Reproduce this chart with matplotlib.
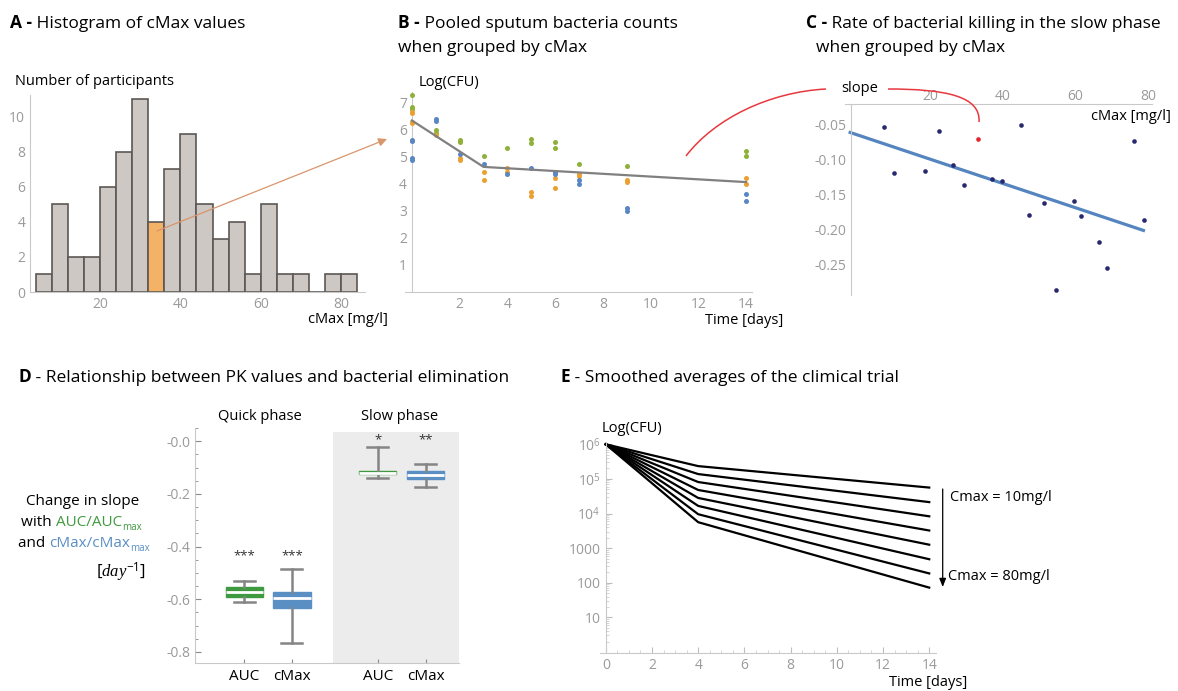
import matplotlib
matplotlib.use("Agg")
import matplotlib.pyplot as plt
import numpy as np
from matplotlib.patches import FancyArrowPatch, PathPatch
from matplotlib.path import Path
from matplotlib.ticker import MultipleLocator, LogLocator, NullFormatter

plt.rcParams['font.family'] = ['Open Sans', 'DejaVu Sans']
plt.rcParams['mathtext.fontset'] = 'custom'
plt.rcParams['mathtext.rm'] = 'Open Sans'
plt.rcParams['mathtext.it'] = 'Liberation Serif:italic'
plt.rcParams['mathtext.bf'] = 'Open Sans:bold'

W, H = 1178, 691

# --- A: histogram of cMax
hist_left = [4, 8, 12, 16, 20, 24, 28, 32, 36, 40, 44, 48, 52, 56, 60, 64, 68, 72, 76, 80]
hist_counts = [1, 5, 2, 2, 6, 8, 11, 4, 7, 9, 5, 3, 4, 1, 5, 1, 1, 0, 1, 1]
hist_highlight = 32

# --- B: pooled sputum counts (log CFU) per group
green_days = [0, 0, 0, 1, 1, 2, 2, 3, 4, 5, 5, 6, 6, 7, 9, 14, 14]
green_vals = [7.27, 6.81, 6.74, 5.98, 5.85, 5.61, 5.54, 5.02, 5.32, 5.62, 5.48, 5.54, 5.32, 4.72, 4.64, 5.18, 5.02]
orange_days = [0, 0, 0, 0, 1, 2, 2, 3, 3, 4, 4, 5, 5, 6, 6, 7, 7, 9, 9, 14, 14]
orange_vals = [6.65, 6.59, 6.25, 6.21, 5.80, 4.94, 4.85, 4.41, 4.12, 4.57, 4.41, 3.68, 3.52, 4.20, 3.82, 4.33, 4.26, 4.13, 4.06, 4.20, 3.97]
blue_days = [0, 0, 0, 0, 1, 1, 2, 3, 4, 5, 6, 6, 7, 7, 9, 9, 14, 14]
blue_vals = [5.61, 5.55, 4.94, 4.87, 6.36, 6.30, 5.10, 4.72, 4.35, 4.57, 4.41, 4.33, 4.13, 3.97, 3.09, 2.99, 3.60, 3.37]
fit_days = [0, 3, 14]
fit_vals = [6.32, 4.61, 4.05]

# --- C: slow phase slope vs cMax
slope_cmax = [7.2, 10.1, 18.5, 22.5, 26.4, 29.3, 37.2, 39.9, 45.0, 47.3, 51.3, 54.7, 59.8, 61.5, 66.6, 68.8, 76.1, 79.0]
slope_vals = [-0.0545, -0.119, -0.117, -0.060, -0.108, -0.137, -0.128, -0.131, -0.0517, -0.179, -0.162, -0.286,
              -0.159, -0.181, -0.218, -0.255, -0.074, -0.187]
red_cmax = 33.2
red_slope = -0.0716

# --- D: box stats (quick phase, slow phase)
d_labels = ['AUC', 'cMax', 'AUC', 'cMax']
d_pos = [1, 2, 3.8, 4.8]
d_whislo = [-0.611, -0.767, -0.141, -0.175]
d_q1 = [-0.592, -0.633, -0.126, -0.144]
d_med = [-0.574, -0.596, -0.119, -0.128]
d_q3 = [-0.555, -0.574, -0.113, -0.115]
d_whishi = [-0.531, -0.484, -0.023, -0.085]
d_stars = ['***', '***', '*', '**']
d_star_y = [-0.435, -0.435, 0.007, 0.007]

# --- E: smoothed averages, log10 CFU at day 0, 4, 14
e_days = [0, 4, 14]
e_start = 6.0
e_day4 = [5.37, 5.14, 4.91, 4.68, 4.45, 4.22, 3.98, 3.75]
e_day14 = [4.75, 4.33, 3.92, 3.51, 3.10, 2.68, 2.27, 1.86]

AXC = '#c9c9c9'
TKC = '#9a9a9a'
TKS = 10


def box(l, t, r, b):
    return [l / W, 1 - b / H, (r - l) / W, (b - t) / H]


fig = plt.figure(figsize=(W / 100, H / 100), dpi=100)

ov = fig.add_axes([0, 0, 1, 1])
ov.set_xlim(0, W)
ov.set_ylim(H, 0)
ov.axis('off')
ov.set_zorder(10)
ov.patch.set_alpha(0)
rend = fig.canvas.get_renderer()


def rich(x, y, parts, size, va='baseline'):
    for s, kw in parts:
        kw = dict(kw)
        t = ov.text(x, y + kw.pop('dy', 0), s, fontsize=kw.pop('size', size), va=va, **kw)
        x += t.get_window_extent(rend).width


def plain_axes(ax):
    for s in ['top', 'right']:
        ax.spines[s].set_visible(False)
    for s in ['left', 'bottom']:
        ax.spines[s].set_color(AXC)
    ax.tick_params(length=0, labelcolor=TKC, labelsize=TKS)


# titles
TS = 12.5
rich(10, 28, [('A -', dict(weight='bold')), (' Histogram of cMax values', {})], TS)
rich(398, 28, [('B -', dict(weight='bold')), (' Pooled sputum bacteria counts', {})], TS)
ov.text(398, 52, 'when grouped by cMax', fontsize=TS, va='baseline')
rich(806, 28, [('C -', dict(weight='bold')), (' Rate of bacterial killing in the slow phase', {})], TS)
ov.text(816, 52, 'when grouped by cMax', fontsize=TS, va='baseline')
rich(18, 382, [('D', dict(weight='bold')), (' - Relationship between PK values and bacterial elimination', {})], TS)
rich(560, 382, [('E', dict(weight='bold')), (' - Smoothed averages of the climical trial', {})], TS)

# ---------------- A
axA = fig.add_axes(box(30, 95, 365, 292))
colorsA = ['#f3b265' if b == hist_highlight else '#cdc8c3' for b in hist_left]
axA.bar(hist_left, hist_counts, width=4, align='edge', color=colorsA, edgecolor='#5b5754', linewidth=1.2)
axA.set_xlim(2.6, 85.9)
axA.set_ylim(0, 11.25)
axA.set_xticks([20, 40, 60, 80])
axA.set_yticks([0, 2, 4, 6, 8, 10])
plain_axes(axA)
ov.text(15, 81, 'Number of participants', fontsize=10.5, va='center')
ov.text(388, 319, 'cMax [mg/l]', fontsize=10.5, va='center', ha='right')

# ---------------- B
axB = fig.add_axes(box(405, 92, 752, 292))
for d, v, c in [(green_days, green_vals, '#8fb13a'), (orange_days, orange_vals, '#eba032'),
                (blue_days, blue_vals, '#5b86c4')]:
    axB.scatter(d, v, s=13, color=c, linewidths=0, zorder=3)
axB.plot(fit_days, fit_vals, color='#808080', lw=1.6, zorder=4)
axB.set_xlim(-0.29, 14.25)
axB.set_ylim(0, 7.37)
axB.spines['left'].set_position(('data', 0))
axB.set_xticks([2, 4, 6, 8, 10, 12, 14])
axB.set_yticks([1, 2, 3, 4, 5, 6, 7])
plain_axes(axB)
ov.text(419, 82, 'Log(CFU)', fontsize=10.5, va='center')
ov.text(783, 320, 'Time [days]', fontsize=10.5, va='center', ha='right')

# ---------------- C
axC = fig.add_axes(box(845, 104, 1152, 295))
axC.scatter(slope_cmax, slope_vals, s=11, color='#27286e', linewidths=0, zorder=3)
axC.scatter([red_cmax], [red_slope], s=11, color='#e8222a', linewidths=0, zorder=3)
k, b0 = np.polyfit(slope_cmax + [red_cmax], slope_vals + [red_slope], 1)
xs = np.array([-2.0, 78.8])
axC.plot(xs, k * xs + b0, color='#5585c0', lw=2.3, zorder=2)
axC.set_xlim(-3.42, 81.16)
axC.set_ylim(-0.293, -0.0213)
axC.spines['left'].set_position(('data', -1.85))
axC.spines['bottom'].set_visible(False)
axC.spines['right'].set_visible(False)
axC.spines['top'].set_color(AXC)
axC.spines['left'].set_color(AXC)
axC.xaxis.set_ticks_position('top')
axC.set_xticks([20, 40, 60, 80])
axC.set_yticks([-0.25, -0.20, -0.15, -0.10, -0.05])
axC.set_yticklabels(['-0.25', '-0.20', '-0.15', '-0.10', '-0.05'])
axC.tick_params(length=0, labelcolor=TKC, labelsize=TKS, pad=3)
axC.tick_params(axis='x', pad=0)
ov.text(1171, 116, 'cMax [mg/l]', fontsize=10.5, va='center', ha='right')
ov.text(860, 88, 'slope', fontsize=10.5, va='center', ha='center')

# red arcs linking B and C
arc1 = Path([(686, 156), (715, 118), (770, 92), (826, 89)], [Path.MOVETO, Path.CURVE4, Path.CURVE4, Path.CURVE4])
arc2 = Path([(888, 89), (945, 89), (981, 96), (979, 122)], [Path.MOVETO, Path.CURVE4, Path.CURVE4, Path.CURVE4])
for p in (arc1, arc2):
    ov.add_patch(PathPatch(p, facecolor='none', edgecolor='#e8383e', lw=1.1))

# orange arrow from histogram bar into B
ov.add_patch(FancyArrowPatch((157, 231), (387, 139), arrowstyle='-|>,head_length=5,head_width=2.5',
                             color='#d9956b', lw=0.9, shrinkA=0, shrinkB=0))

# ---------------- D
axD = fig.add_axes(box(195, 428, 459, 663))
axD.fill_between([2.87, 5.49], -0.842, 0.035, color='#ececec', lw=0, zorder=0)
d_colors = ['#3f9a3f', '#5a8fc4', '#3f9a3f', '#5a8fc4']
for i in range(4):
    st = dict(med=d_med[i], q1=d_q1[i], q3=d_q3[i], whislo=d_whislo[i], whishi=d_whishi[i], fliers=[])
    axD.bxp([st], positions=[d_pos[i]], widths=0.78, capwidths=0.44, patch_artist=True, showfliers=False,
            boxprops=dict(facecolor=d_colors[i], edgecolor=d_colors[i], lw=1),
            medianprops=dict(color='white', lw=2),
            whiskerprops=dict(color='#858585', lw=1.8),
            capprops=dict(color='#858585', lw=1.8), manage_ticks=False)
    axD.text(d_pos[i], d_star_y[i], d_stars[i], ha='center', va='center', fontsize=9.5, color='#333333')
axD.set_xlim(-0.03, 5.5)
axD.set_ylim(-0.842, 0.05)
for s in ['top', 'right']:
    axD.spines[s].set_visible(False)
for s in ['left', 'bottom']:
    axD.spines[s].set_color(AXC)
axD.set_yticks([-0.8, -0.6, -0.4, -0.2, 0.0])
axD.set_yticklabels(['-0.8', '-0.6', '-0.4', '-0.2', '-0.0'])
axD.yaxis.set_minor_locator(MultipleLocator(0.05))
axD.tick_params(axis='y', which='major', direction='in', length=4, color='#8a8a8a', labelcolor=TKC, labelsize=TKS)
axD.tick_params(axis='y', which='minor', direction='in', length=2.5, color='#8a8a8a')
axD.set_xticks(d_pos)
axD.set_xticklabels(d_labels)
axD.tick_params(axis='x', direction='in', length=3, color='#8a8a8a', labelsize=11, pad=4)
ov.text(260, 416, 'Quick phase', fontsize=10.5, ha='center', va='center')
ov.text(400, 416, 'Slow phase', fontsize=10.5, ha='center', va='center')

LS = 11
rich(26, 505, [('Change in slope', {})], LS)
rich(21, 526, [('with ', {}), ('AUC/AUC', dict(color='#3f9a3f')), ('max', dict(color='#3f9a3f', size=7, dy=4))], LS)
rich(18, 547, [('and ', {}), ('cMax/cMax', dict(color='#5a8fc4')), ('max', dict(color='#5a8fc4', size=7, dy=4))], LS)
ov.text(146, 572, r'$[day^{-1}]$', fontsize=12, ha='right', va='center')

# ---------------- E
axE = fig.add_axes(box(600, 441.7, 935.7, 652.7))
for v4, v14 in zip(e_day4, e_day14):
    axE.plot(e_days, 10 ** np.array([e_start, v4, v14]), color='black', lw=1.6)
axE.set_yscale('log')
axE.set_xlim(-0.25, 14.28)
axE.set_ylim(10 ** -0.02, 10 ** 6.075)
axE.spines['left'].set_position(('data', 0))
for s in ['top', 'right']:
    axE.spines[s].set_visible(False)
for s in ['left', 'bottom']:
    axE.spines[s].set_color(AXC)
axE.set_xticks([0, 2, 4, 6, 8, 10, 12, 14])
axE.xaxis.set_minor_locator(MultipleLocator(0.5))
axE.set_yticks([10, 100, 1000, 1e4, 1e5, 1e6])
axE.set_yticklabels(['10', '100', '1000', r'$10^{4}$', r'$10^{5}$', r'$10^{6}$'])
axE.yaxis.set_minor_locator(LogLocator(base=10, subs=np.arange(2, 10)))
axE.yaxis.set_minor_formatter(NullFormatter())
axE.tick_params(which='major', direction='in', length=4, color='#bdbdbd', labelcolor=TKC, labelsize=TKS)
axE.tick_params(which='minor', direction='in', length=2, color='#cfcfcf')
ov.text(602, 428, 'Log(CFU)', fontsize=10.5, va='center')
ov.text(967, 683, 'Time [days]', fontsize=10.5, va='center', ha='right')
ov.add_patch(FancyArrowPatch((942.7, 489), (942.7, 587), arrowstyle='-|>,head_length=5,head_width=2',
                             color='black', lw=0.9, shrinkA=0, shrinkB=0))
ov.text(950, 497, 'Cmax = 10mg/l', fontsize=10.5, va='center')
ov.text(948, 577, 'Cmax = 80mg/l', fontsize=10.5, va='center')

fig.savefig('out.png', dpi=100)
